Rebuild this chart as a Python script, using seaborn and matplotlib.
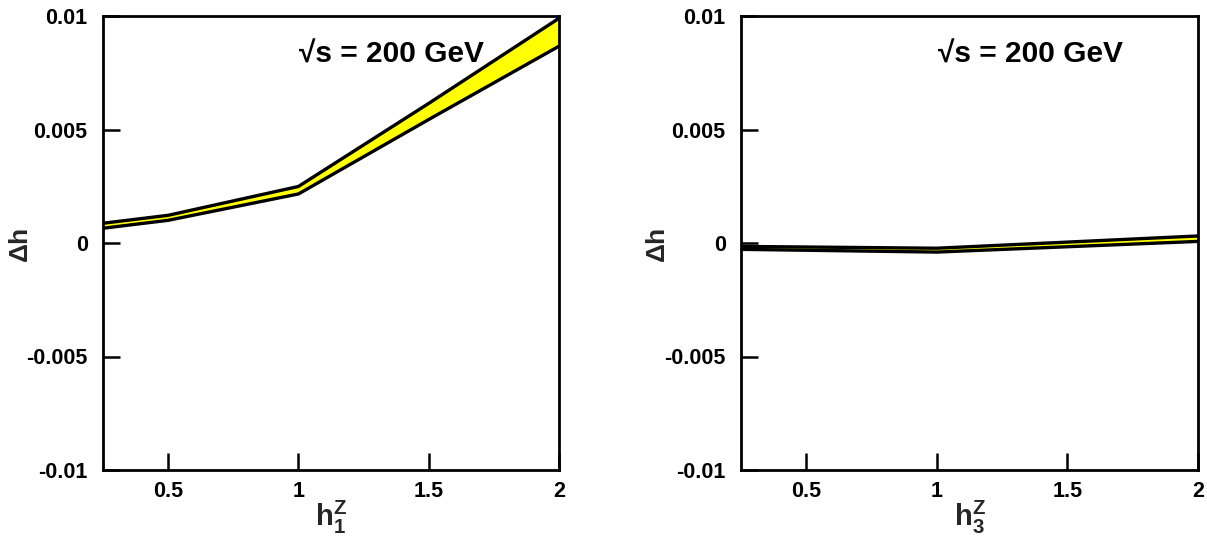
import matplotlib
matplotlib.use("Agg")
import matplotlib.pyplot as plt
import seaborn as sns
import pandas as pd

# ---- data ----
x_h1 = [0.25, 0.5, 1.0, 1.5, 2.0]
upper_h1 = [0.00087, 0.00122, 0.00249, 0.00615, 0.0099]
lower_h1 = [0.00065, 0.00100, 0.00216, 0.00544, 0.00867]

x_h3 = [0.25, 1.0, 2.0]
upper_h3 = [-0.00015, -0.00023, 0.00031]
lower_h3 = [-0.00028, -0.00040, 0.00007]

y_ticks = [-0.01, -0.005, 0, 0.005, 0.01]
y_ticklabels = ["-0.01", "-0.005", "0", "0.005", "0.01"]
x_ticks = [0.5, 1.0, 1.5, 2.0]
x_ticklabels = ["0.5", "1", "1.5", "2"]
annotation = "\u221as = 200 GeV"
xlabels = [r"$\mathbf{h}_\mathbf{1}^\mathbf{Z}$", r"$\mathbf{h}_\mathbf{3}^\mathbf{Z}$"]
ylabel = "\u0394h"

sns.set_style("white")
plt.rcParams["font.family"] = ["Liberation Sans", "DejaVu Sans"]
plt.rcParams["font.weight"] = "bold"
plt.rcParams["mathtext.fontset"] = "custom"
plt.rcParams["mathtext.rm"] = "Liberation Sans:bold"
plt.rcParams["mathtext.bf"] = "Liberation Sans:bold"
plt.rcParams["mathtext.it"] = "Liberation Sans:bold"

fig = plt.figure(figsize=(12.07, 5.40), dpi=100)
W, H = 1207, 540
axes_px = [(103, 456), (741, 457)]
axes = [fig.add_axes([l / W, (540 - 470) / H, w / W, 454 / H]) for l, w in axes_px]

panels = [(x_h1, upper_h1, lower_h1), (x_h3, upper_h3, lower_h3)]
for ax, (xs, up, lo), xl in zip(axes, panels, xlabels):
    df = pd.DataFrame({"x": xs + xs, "y": up + lo,
                       "edge": ["upper"] * len(xs) + ["lower"] * len(xs)})
    ax.fill_between(xs, lo, up, color="#ffff00", linewidth=0, zorder=1)
    sns.lineplot(data=df, x="x", y="y", units="edge", estimator=None,
                 color="black", linewidth=2.4, ax=ax, zorder=2, legend=False)
    ax.set_xlim(0.25, 2.0)
    ax.set_ylim(-0.01, 0.01)
    ax.set_xticks(x_ticks)
    ax.set_xticklabels(x_ticklabels, fontsize=15.5, fontweight="bold")
    ax.set_yticks(y_ticks)
    ax.set_yticklabels(y_ticklabels, fontsize=15.5, fontweight="bold")
    ax.tick_params(axis="both", direction="in", length=12, width=1.8,
                   color="black", labelcolor="black",
                   bottom=True, left=True, top=False, right=False)
    ax.tick_params(axis="y", pad=11)
    ax.tick_params(axis="x", pad=8)
    for sp in ax.spines.values():
        sp.set_visible(True)
        sp.set_color("black")
        sp.set_linewidth(2.0)
    ax.set_xlabel(xl, fontsize=21, fontweight="bold")
    ax.set_ylabel(ylabel, fontsize=19, fontweight="bold")
    ax.xaxis.set_label_coords(0.5, -0.064)
    ax.yaxis.set_label_coords(-0.157, 0.5)
    ax.text(0.43, 0.915, annotation, transform=ax.transAxes, fontsize=21.5,
            fontweight="bold", ha="left", va="center", color="black")
    ax.set_facecolor("white")

fig.savefig("out.png", dpi=100, facecolor="white")
